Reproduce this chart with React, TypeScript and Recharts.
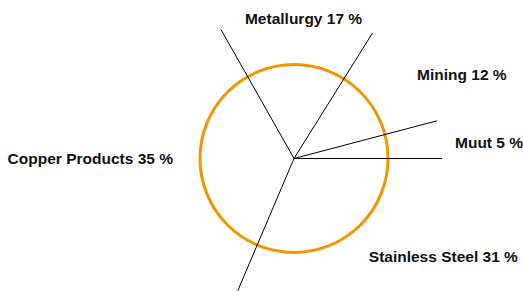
import React from 'react';
import { PieChart, Pie } from 'recharts';

// ---- data ----
const categories = ['Muut', 'Mining', 'Metallurgy', 'Copper Products', 'Stainless Steel'];
const labelPercents = [5, 12, 17, 35, 31];
// slice shares as drawn in the picture (angles of the boundary lines)
const shares = [4.1, 12.0, 17.1, 35.4, 31.4];

const data = categories.map((name, i) => ({ name, value: shares[i], pct: labelPercents[i] }));
const ring = [{ name: 'ring', value: 1 }];

// ---- style ----
const CX = 294;
const CY = 158.5;
const LINE_R = 148;
const RING_R = 94;
const ORANGE = '#F29600';
const LABEL_R = 120;
const LABEL_LAYOUT: { anchor: 'start' | 'middle' | 'end'; dx: number; dy: number }[] = [
  { anchor: 'start', dx: 42, dy: -0.3 },
  { anchor: 'start', dx: 26.4, dy: -12.4 },
  { anchor: 'middle', dx: 6.9, dy: -20.5 },
  { anchor: 'end', dx: -1.2, dy: -6.3 },
  { anchor: 'start', dx: 8.6, dy: -1.7 },
];
const FONT = '"Liberation Sans", Arial, sans-serif';
const RAD = Math.PI / 180;

const BoundaryLine = (props: any) => {
  const { cx, cy, outerRadius, startAngle } = props;
  const a = -startAngle * RAD;
  return (
    <line
      x1={cx}
      y1={cy}
      x2={cx + outerRadius * Math.cos(a)}
      y2={cy + outerRadius * Math.sin(a)}
      stroke="#000"
      strokeWidth={1}
    />
  );
};

const RingShape = (props: any) => {
  const { cx, cy, outerRadius } = props;
  return <circle cx={cx} cy={cy} r={outerRadius} fill="none" stroke={ORANGE} strokeWidth={3} />;
};

const renderLabel = (props: any) => {
  const { cx, cy, midAngle, index } = props;
  const a = -midAngle * RAD;
  const lay = LABEL_LAYOUT[index];
  const x = cx + LABEL_R * Math.cos(a) + lay.dx;
  const y = cy + LABEL_R * Math.sin(a) + lay.dy;
  const d = data[index];
  return (
    <text
      key={`lbl-${index}`}
      x={x}
      y={y}
      textAnchor={lay.anchor}
      dominantBaseline="central"
      fill="#111"
      fontFamily={FONT}
      fontSize={15.5}
      fontWeight={700}
    >
      {`${d.name} ${d.pct} %`}
    </text>
  );
};

export default function App() {
  return (
    <div style={{ position: 'absolute', left: 0, top: 0, width: 523, height: 291, background: '#fff' }}>
      <PieChart width={523} height={291} margin={{ top: 0, right: 0, bottom: 0, left: 0 }}>
        <Pie
          data={ring}
          dataKey="value"
          cx={CX}
          cy={CY}
          innerRadius={0}
          outerRadius={RING_R}
          startAngle={0}
          endAngle={360}
          isAnimationActive={false}
          shape={RingShape}
          inactiveShape={RingShape}
          activeShape={RingShape}
          stroke="none"
        />
        <Pie
          data={data}
          dataKey="value"
          cx={CX}
          cy={CY}
          innerRadius={0}
          outerRadius={LINE_R}
          startAngle={0}
          endAngle={360}
          isAnimationActive={false}
          shape={BoundaryLine}
          inactiveShape={BoundaryLine}
          activeShape={BoundaryLine}
          label={renderLabel}
          labelLine={false}
          stroke="none"
        />
      </PieChart>
    </div>
  );
}
